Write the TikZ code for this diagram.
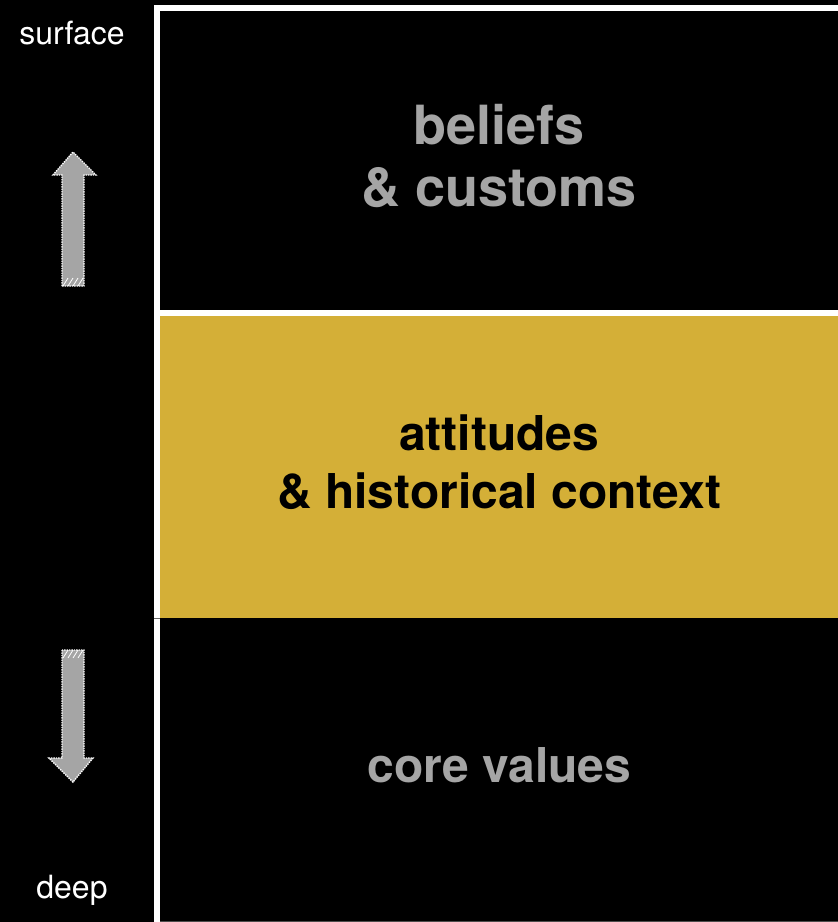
\documentclass[tikz,border=0pt]{standalone}
\usepackage{fontspec}
\setmainfont{TeX Gyre Heros}
\definecolor{layergold}{RGB}{212,175,55}
\definecolor{layergray}{RGB}{165,165,165}
\begin{document}
\begin{tikzpicture}[x=1pt,y=-1pt]
	\tikzstyle{layer} = [shape=rectangle, inner sep=0, minimum width=678pt, anchor=north west]
	\tikzstyle{caption} = [align=center, font=\bfseries\fontsize{48}{58}\selectfont, yshift=5pt]
	\tikzstyle{side} = [font=\fontsize{32}{36}\selectfont, white]
	\tikzstyle{depth} = [fill=layergray, draw=white, densely dotted, line width=1.4pt]
	\tikzstyle{rule} = [fill=white, draw=none]
	
	\fill [black] (0,0) rectangle (838,922);
	\useasboundingbox (0,0) rectangle (838,922);
	
	\node [layer, minimum height=299pt, fill=black] (top) at (160,11) {};
	\node [layer, minimum height=302pt, fill=layergold] (mid) at (160,316) {};
	\node [layer, minimum height=303pt, fill=black] (low) at (160,619) {};
	\node [caption, layergray, font=\bfseries\fontsize{54}{62}\selectfont] (customs) at (top) {beliefs\\\& customs};
	\node [caption, black] (context) at (mid) {attitudes\\\& historical context};
	\node [caption, layergray] (values) at (low) {core values};
	
	\fill [rule] (154,5) rectangle (838,11);
	\fill [rule] (154,5) rectangle (160,922);
	\fill [rule] (154,310) rectangle (838,316);
	\draw [black!60, line width=1pt] (154,618) -- (160,618);
	\draw [black!70, line width=1pt] (160,921) -- (838,921);
	
	\node [side] (surface) at (72,33) {surface};
	\node [side] (deep) at (72,890) {deep};
	
	% up and down arrows
	\filldraw [depth] (62,286) -- (62,175) -- (53,175) -- (73,152) -- (96,175) -- (84,175) -- (84,286) -- cycle;
	\filldraw [depth] (62,650) -- (62,758) -- (49,758) -- (73,782) -- (93,758) -- (84,758) -- (84,650) -- cycle;
	\foreach \x in {63,68,73,78}
	{
		\draw [white, line width=0.8pt] (\x,286) -- (\x+5,278);
		\draw [white, line width=0.8pt] (\x,658) -- (\x+5,650);
	}
\end{tikzpicture}
\end{document}
